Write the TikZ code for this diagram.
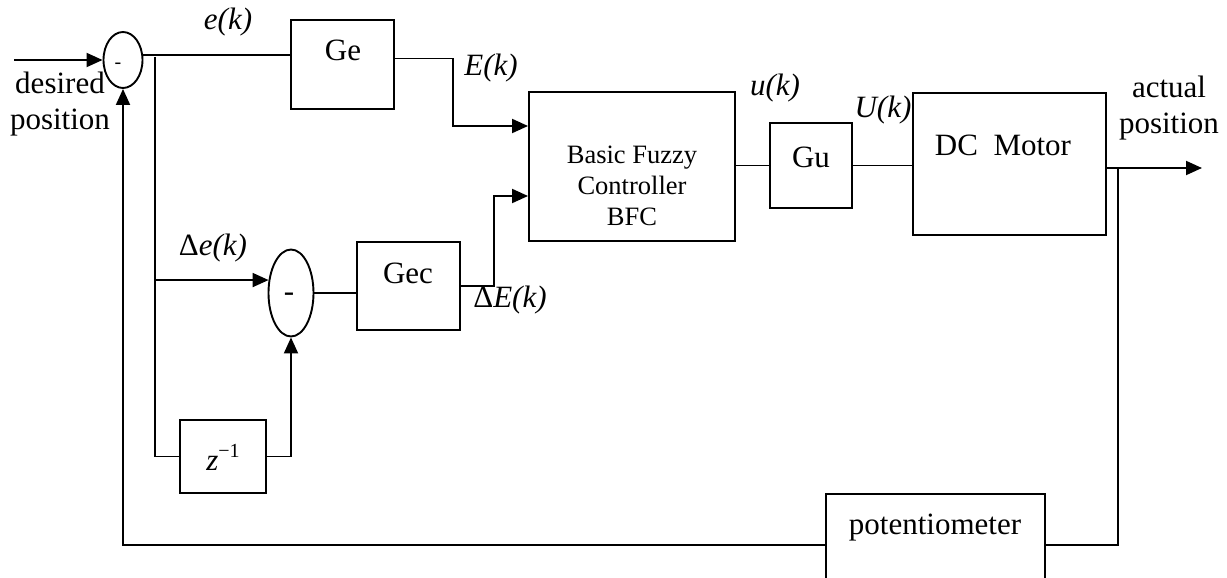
\documentclass[tikz,border=0pt]{standalone}
\usepackage{fontspec}
\setmainfont{Liberation Serif}
\usetikzlibrary{arrows.meta,shapes.geometric,calc}
\begin{document}
\begin{tikzpicture}[x=1pt,y=-1pt, line width=1.9pt,
  box/.style={draw, rectangle, inner sep=0pt},
  sumnode/.style={draw, ellipse, inner sep=0pt},
  arr/.style={-{Triangle[length=16pt,width=14pt]}},
  lbl/.style={inner sep=0pt, font=\fontsize{31}{36}\selectfont},
  ]
\useasboundingbox (0,0) rectangle (1227,578);
\clip (0,0) rectangle (1227,578);
% blocks
\node[sumnode, minimum width=39pt, minimum height=56pt] (s1) at (123,60) {};
\node[lbl, font=\fontsize{20}{20}\selectfont] (m1) at (118,66) {-};
\node[box, minimum width=103pt, minimum height=89pt] (ge) at (342.5,64.5) {};
\node[lbl] (get) at (343,50) {Ge};
\node[box, minimum width=206pt, minimum height=149pt] (bfc) at (632,166.5) {};
\node[lbl, align=center, font=\fontsize{26.5}{31}\selectfont] (bfct) at (632,186) {Basic Fuzzy\\Controller\\BFC};
\node[box, minimum width=82pt, minimum height=85pt] (gu) at (811,165.5) {};
\node[lbl] (gut) at (811,157) {Gu};
\node[box, minimum width=193pt, minimum height=142pt] (dc) at (1009.5,164) {};
\node[lbl] (dct) at (1003,145) {DC\ \ Motor};
\node[sumnode, minimum width=45pt, minimum height=87pt] (s2) at (291,293) {};
\node[lbl] (m2) at (289,297) {-};
\node[box, minimum width=103pt, minimum height=88pt] (gec) at (408.5,286) {};
\node[lbl] (gect) at (408,273) {Gec};
\node[box, minimum width=86pt, minimum height=73pt] (zd) at (223,456.5) {};
\node[lbl] (zdt) at (223,457) {\textit{z}\raisebox{13pt}{\fontsize{20}{20}\selectfont −1}};
\node[box, minimum width=219pt, minimum height=140pt] (pot) at (935.5,564) {};
\node[lbl] (pott) at (935,528) {potentiometer};
% labels
\node[lbl, align=center] (des) at (60,104) {desired\\position};
\node[lbl, align=center] (act) at (1169,108) {actual\\position};
\node[lbl] (ek) at (228,22) {\textit{e(k)}};
\node[lbl] (Ek) at (491,68) {\textit{E(k)}};
\node[lbl] (uk) at (775,88) {\textit{u(k)}};
\node[lbl] (Uk) at (883,110) {\textit{U(k)}};
\node[lbl] (dek) at (213,248) {Δ\textit{e(k)}};
\node[lbl] (dEk) at (510,300) {Δ\textit{E(k)}};
% coordinates
\coordinate (in) at (14,60);
\coordinate (b1) at (155,57);
\coordinate (geo) at ($(ge.east)+(0,-6)$);
\coordinate (k1) at (453,126);
\coordinate (k2) at (494,196);
\coordinate (out) at (1202,168);
\coordinate (j) at (1118,168);
\coordinate (fb) at (0,545);
% connectors
\draw[arr] (in) -- (s1.west);
\draw (s1.15) -- (s1.15 -| ge.west);
\draw (b1) |- (zd.west);
\draw[arr] (b1 |- s2.150) -- (s2.150);
\draw[arr] (geo) -| (k1) -- (k1 -| bfc.west);
\draw (s2.east) -- (s2.east -| gec.west);
\draw[arr] (gec.east) -| (k2) -- (k2 -| bfc.west);
\draw[arr] (zd.east) -| (s2.south);
\draw (bfc.east |- gu.west) -- (gu.west);
\draw (gu.east) -- (gu.east -| dc.west);
\draw[arr] (dc.east |- out) -- (out);
\draw (j) -- (j |- fb) -- (pot.east |- fb);
\draw[arr] (pot.west |- fb) -| (s1.south);
\end{tikzpicture}
\end{document}
